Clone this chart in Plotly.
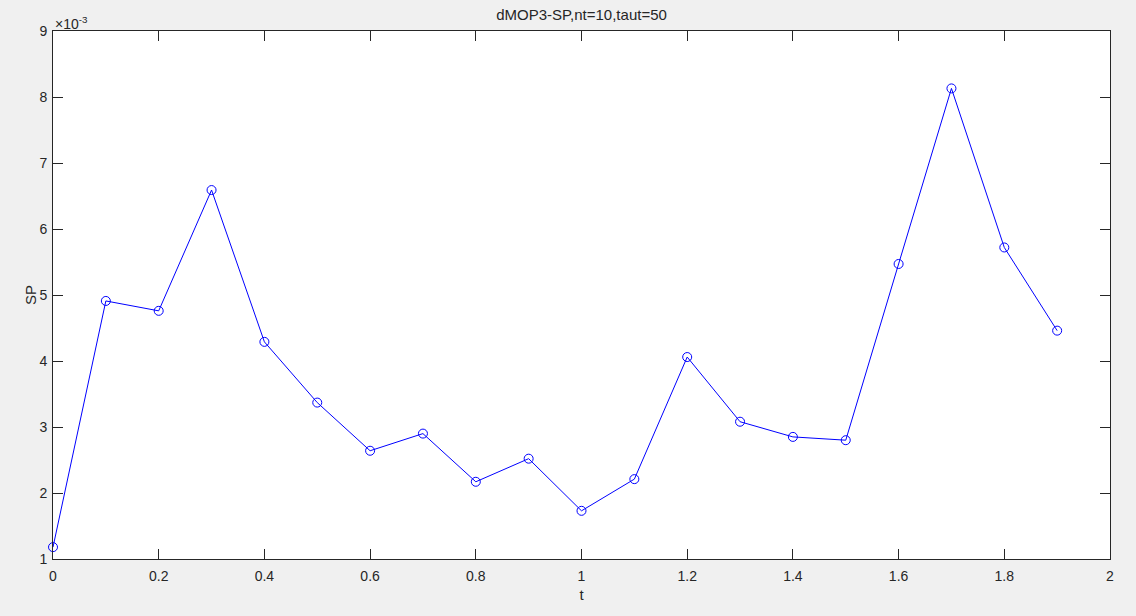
import plotly.graph_objects as go

t_vals = [0.0, 0.1, 0.2, 0.3, 0.4, 0.5, 0.6, 0.7, 0.8, 0.9, 1.0, 1.1, 1.2, 1.3, 1.4, 1.5, 1.6, 1.7, 1.8, 1.9]
sp_vals = [0.00118, 0.00491, 0.00476, 0.00659, 0.00429, 0.00337, 0.00264, 0.00290, 0.00217, 0.00252,
           0.00173, 0.00221, 0.00406, 0.00308, 0.00285, 0.00280, 0.00547, 0.00813, 0.00572, 0.00446]
y_tick_vals = [1e-3, 2e-3, 3e-3, 4e-3, 5e-3, 6e-3, 7e-3, 8e-3, 9e-3]
y_tick_text = ["1", "2", "3", "4", "5", "6", "7", "8", "9"]
x_tick_vals = [0, 0.2, 0.4, 0.6, 0.8, 1, 1.2, 1.4, 1.6, 1.8, 2]
x_tick_text = ["0", "0.2", "0.4", "0.6", "0.8", "1", "1.2", "1.4", "1.6", "1.8", "2"]

FONT = "Liberation Sans, Arial, Helvetica, sans-serif"
AX = "#262626"

fig = go.Figure()
fig.add_trace(go.Scatter(
    x=t_vals, y=sp_vals, mode="lines+markers",
    line=dict(color="#0000ff", width=1),
    marker=dict(symbol="circle-open", size=9, color="#0000ff", line=dict(width=1)),
    showlegend=False, cliponaxis=False,
))

axis_common = dict(showgrid=False, zeroline=False, showline=True, linecolor=AX, linewidth=1,
                   mirror="ticks", ticks="inside", ticklen=10, tickwidth=1, tickcolor=AX,
                   tickfont=dict(family=FONT, size=14, color=AX))

fig.update_layout(
    width=1136, height=616,
    paper_bgcolor="#f0f0f0", plot_bgcolor="#ffffff",
    margin=dict(l=53, r=26, t=31, b=57, autoexpand=False),
    title=dict(text="dMOP3-SP,nt=10,taut=50", x=0.5, xref="paper", y=1 - 15 / 616, yanchor="middle",
               font=dict(family=FONT, size=15, color=AX)),
    xaxis=dict(range=[0, 2], tickvals=x_tick_vals, ticktext=x_tick_text, ticklabelstandoff=4,
               title=dict(text="t", font=dict(family=FONT, size=15, color=AX), standoff=6), **axis_common),
    yaxis=dict(range=[1e-3, 9e-3], tickvals=y_tick_vals, ticktext=y_tick_text, ticklabelstandoff=2,
               **axis_common),
    annotations=[
        dict(text="×10<sup>-3</sup>", xref="paper", yref="paper", x=0, y=1,
             xanchor="left", yanchor="bottom", showarrow=False,
             font=dict(family=FONT, size=14, color=AX), yshift=-3),
        dict(text="SP", xref="paper", yref="paper", x=-23 / 1057, y=0.5,
             xanchor="center", yanchor="middle", textangle=-90, showarrow=False,
             font=dict(family=FONT, size=15, color=AX)),
    ],
)

fig.write_html("out.html", config={"displayModeBar": False},
               post_script="document.body.style.margin='0';document.body.style.padding='0';")
